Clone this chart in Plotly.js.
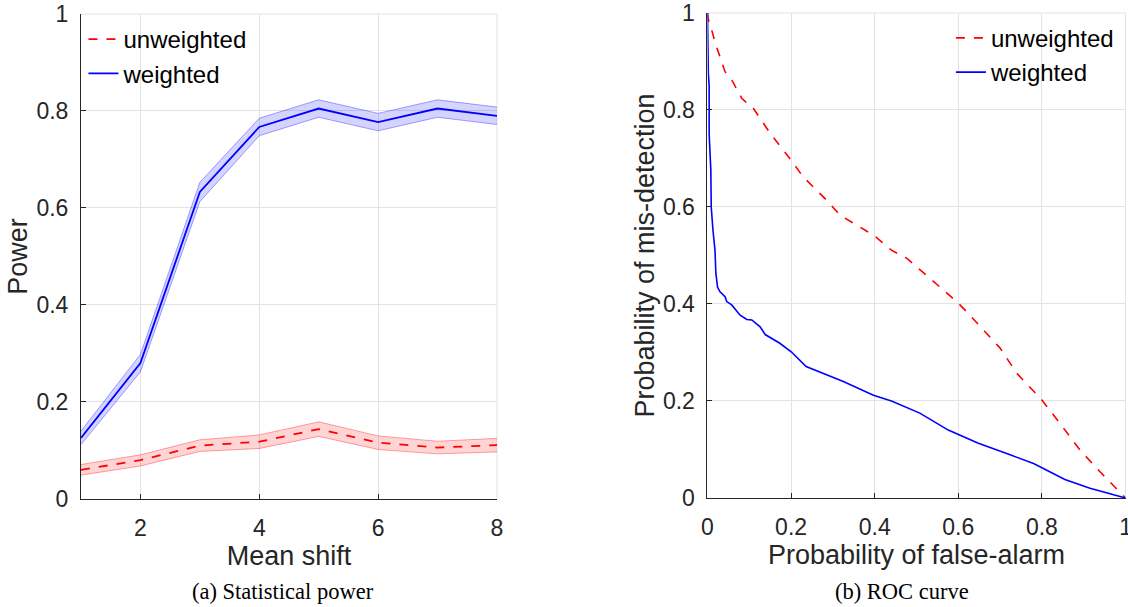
<!DOCTYPE html>
<html>
<head>
<meta charset="utf-8">
<script src="https://cdn.plot.ly/plotly-3.0.1.min.js"></script>
<style>html,body{margin:0;padding:0;background:#fff;}#chart{width:1128px;height:607px;}</style>
</head>
<body>
<div id="chart"></div>
<script>
// ---- (a) Statistical power ----
const meanShift = [1, 2, 3, 4, 5, 6, 7, 8];
const powerWeighted      = [0.126, 0.280, 0.633, 0.767, 0.805, 0.777, 0.805, 0.790];
const powerWeightedLo    = [0.112, 0.262, 0.613, 0.749, 0.787, 0.759, 0.787, 0.772];
const powerWeightedHi    = [0.140, 0.298, 0.653, 0.785, 0.823, 0.795, 0.823, 0.808];
const powerUnweighted    = [0.060, 0.080, 0.110, 0.118, 0.144, 0.116, 0.106, 0.111];
const powerUnweightedLo  = [0.049, 0.068, 0.098, 0.104, 0.129, 0.102, 0.093, 0.097];
const powerUnweightedHi  = [0.071, 0.091, 0.122, 0.132, 0.159, 0.130, 0.119, 0.125];

// ---- (b) ROC curve ----
const fprUnweighted = [0, 0.001, 0.006, 0.010, 0.018, 0.030, 0.042, 0.058, 0.082, 0.100, 0.110, 0.150, 0.197, 0.229, 0.285, 0.317, 0.397, 0.440, 0.477, 0.532, 0.596, 0.620, 0.660, 0.700, 0.740, 0.800, 0.843, 0.891, 0.939, 1.0];
const pmdUnweighted = [1, 0.990, 0.975, 0.965, 0.940, 0.907, 0.879, 0.862, 0.824, 0.810, 0.803, 0.752, 0.700, 0.662, 0.614, 0.583, 0.542, 0.511, 0.494, 0.453, 0.405, 0.384, 0.346, 0.309, 0.257, 0.202, 0.154, 0.099, 0.054, 0];
const fprWeighted = [0, 0.0005, 0.002, 0.004, 0.004, 0.008, 0.009, 0.013, 0.017, 0.018, 0.020, 0.024, 0.030, 0.042, 0.046, 0.058, 0.078, 0.094, 0.106, 0.126, 0.138, 0.173, 0.201, 0.221, 0.236, 0.325, 0.397, 0.440, 0.508, 0.576, 0.648, 0.724, 0.780, 0.855, 0.915, 1.0];
const pmdWeighted = [1, 0.950, 0.876, 0.850, 0.750, 0.676, 0.600, 0.553, 0.526, 0.511, 0.464, 0.435, 0.425, 0.415, 0.405, 0.398, 0.377, 0.368, 0.367, 0.353, 0.337, 0.319, 0.301, 0.284, 0.271, 0.240, 0.212, 0.200, 0.175, 0.140, 0.113, 0.089, 0.071, 0.038, 0.020, 0];

const seriesNames = ['unweighted', 'weighted'];
const yTicks = [0, 0.2, 0.4, 0.6, 0.8, 1];
const yTickText = ['0', '0.2', '0.4', '0.6', '0.8', '1'];
const xTicksA = [2, 4, 6, 8];
const xTicksB = [0, 0.2, 0.4, 0.6, 0.8, 1];
const xTickTextB = ['0', '0.2', '0.4', '0.6', '0.8', '1'];

const F = 'Liberation Sans, Arial, Helvetica, sans-serif';
const DARK = '#262626';
const GRID = '#e3e3e3';

const traces = [
  {x: meanShift, y: powerUnweightedHi, type: 'scatter', mode: 'lines', xaxis: 'x', yaxis: 'y',
   line: {color: 'rgba(255,0,0,0.35)', width: 1}, showlegend: false, hoverinfo: 'skip'},
  {x: meanShift, y: powerUnweightedLo, type: 'scatter', mode: 'lines', xaxis: 'x', yaxis: 'y', fill: 'tonexty',
   fillcolor: 'rgba(255,0,0,0.17)', line: {color: 'rgba(255,0,0,0.35)', width: 1}, showlegend: false, hoverinfo: 'skip'},
  {x: meanShift, y: powerWeightedHi, type: 'scatter', mode: 'lines', xaxis: 'x', yaxis: 'y',
   line: {color: 'rgba(0,0,255,0.35)', width: 1}, showlegend: false, hoverinfo: 'skip'},
  {x: meanShift, y: powerWeightedLo, type: 'scatter', mode: 'lines', xaxis: 'x', yaxis: 'y', fill: 'tonexty',
   fillcolor: 'rgba(0,0,255,0.17)', line: {color: 'rgba(0,0,255,0.35)', width: 1}, showlegend: false, hoverinfo: 'skip'},
  {x: meanShift, y: powerUnweighted, type: 'scatter', mode: 'lines', xaxis: 'x', yaxis: 'y', name: seriesNames[0],
   line: {color: '#ff0000', width: 1.8, dash: 'dash'}, legend: 'legend'},
  {x: meanShift, y: powerWeighted, type: 'scatter', mode: 'lines', xaxis: 'x', yaxis: 'y', name: seriesNames[1],
   line: {color: '#0000ff', width: 1.8}, legend: 'legend'},
  {x: fprUnweighted, y: pmdUnweighted, type: 'scatter', mode: 'lines', xaxis: 'x2', yaxis: 'y2', name: seriesNames[0],
   line: {color: '#ff0000', width: 1.6, dash: 'dash'}, legend: 'legend2'},
  {x: fprWeighted, y: pmdWeighted, type: 'scatter', mode: 'lines', xaxis: 'x2', yaxis: 'y2', name: seriesNames[1],
   line: {color: '#0000ff', width: 1.6}, legend: 'legend2'}
];

function xAxis(domain, range, vals, text, title, anchor) {
  const a = {
    domain: domain, range: range, anchor: anchor, tickmode: 'array', tickvals: vals,
    showgrid: true, gridcolor: GRID, gridwidth: 1, zeroline: false,
    showline: true, linecolor: DARK, linewidth: 1, mirror: false,
    ticks: 'inside', ticklen: 5, tickcolor: DARK, tickwidth: 1,
    tickfont: {family: F, size: 23, color: DARK}, ticklabelstandoff: 8, ticklabeloverflow: 'allow',
    title: {text: title, font: {family: F, size: 27, color: DARK}, standoff: 4},
    fixedrange: true
  };
  if (text) a.ticktext = text;
  return a;
}
function yAxis(domain, title, anchor) {
  return {
    domain: domain, range: [0, 1], anchor: anchor, tickmode: 'array', tickvals: yTicks, ticktext: yTickText,
    showgrid: true, gridcolor: GRID, gridwidth: 1, zeroline: false,
    showline: true, linecolor: DARK, linewidth: 1, mirror: false,
    ticks: 'inside', ticklen: 5, tickcolor: DARK, tickwidth: 1,
    tickfont: {family: F, size: 23, color: DARK}, ticklabelstandoff: 7, ticklabeloverflow: 'allow',
    title: {text: title, font: {family: F, size: 27, color: DARK}, standoff: 0},
    fixedrange: true
  };
}

function frameEdges(xr, yr) {
  return [
    {type: 'line', xref: xr + ' domain', yref: yr + ' domain', x0: 0, x1: 1, y0: 1, y1: 1, line: {color: GRID, width: 1}, layer: 'below'},
    {type: 'line', xref: xr + ' domain', yref: yr + ' domain', x0: 1, x1: 1, y0: 0, y1: 1, line: {color: GRID, width: 1}, layer: 'below'}
  ];
}

const layout = {
  width: 1128, height: 607,
  margin: {l: 0, r: 0, t: 0, b: 0, pad: 0},
  paper_bgcolor: '#ffffff', plot_bgcolor: '#ffffff',
  font: {family: F, color: DARK},
  xaxis: xAxis([0.0718, 0.4406], [1, 8], xTicksA, null, 'Mean shift', 'y'),
  yaxis: yAxis([0.178, 0.977], 'Power', 'x'),
  xaxis2: xAxis([0.6272, 0.9978], [0, 1], xTicksB, xTickTextB, 'Probability of false-alarm', 'y2'),
  yaxis2: yAxis([0.1796, 0.9786], 'Probability of mis-detection', 'x2'),
  legend: {x: 0.074, y: 0.972, xanchor: 'left', yanchor: 'top', bgcolor: 'rgba(0,0,0,0)', borderwidth: 0,
           traceorder: 'normal', font: {family: F, size: 24, color: '#000'}, tracegroupgap: 0, itemwidth: 30},
  legend2: {x: 0.843, y: 0.974, xanchor: 'left', yanchor: 'top', bgcolor: 'rgba(0,0,0,0)', borderwidth: 0,
           traceorder: 'normal', font: {family: F, size: 24, color: '#000'}, tracegroupgap: 0, itemwidth: 30},
  shapes: frameEdges('x', 'y').concat(frameEdges('x2', 'y2')),
  annotations: [
    {text: '(a) Statistical power', xref: 'paper', yref: 'paper', x: 0.2505, y: 0.025, xanchor: 'center', yanchor: 'middle',
     showarrow: false, font: {family: 'Liberation Serif, Times New Roman, serif', size: 22.5, color: '#000'}},
    {text: '(b) ROC curve', xref: 'paper', yref: 'paper', x: 0.8, y: 0.025, xanchor: 'center', yanchor: 'middle',
     showarrow: false, font: {family: 'Liberation Serif, Times New Roman, serif', size: 22.5, color: '#000'}}
  ],
  hovermode: false
};

Plotly.newPlot('chart', traces, layout, {displayModeBar: false, staticPlot: true});
</script>
</body>
</html>
